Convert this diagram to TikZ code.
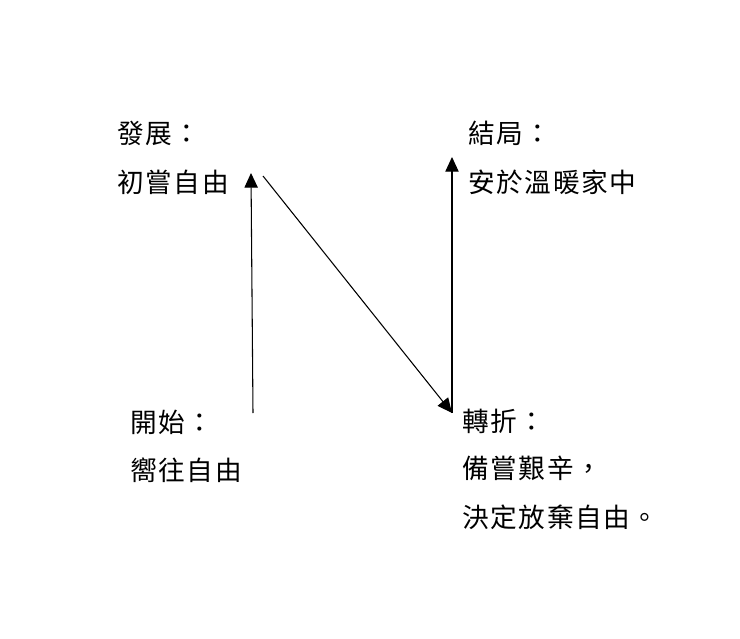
\documentclass[tikz,border=0pt]{standalone}
\usepackage{fontspec}
\newfontfamily\cjk[LetterSpace=6]{Noto Sans CJK TC}
\usetikzlibrary{arrows.meta}

\tikzset{
  stage/.style={anchor=west, inner sep=0pt, font=\cjk\fontsize{20}{24}\selectfont},
  plotline/.style={line width=0.8pt, -{Triangle[length=11pt, width=10pt]}}
}

\begin{document}
\begin{tikzpicture}[x=0.75pt, y=-0.75pt]
              \useasboundingbox (0, 0) rectangle (740, 639);
              \node[stage] (dev) at (117, 133) {發展：};
              \node[stage] (devtext) at (117, 182) {初嘗自由};
              \node[stage] (end) at (468, 133) {結局：};
              \node[stage] (endtext) at (468, 182) {安於溫暖家中};
              \node[stage] (begin) at (130, 422) {開始：};
              \node[stage] (begintext) at (130, 470) {嚮往自由};
              \node[stage] (turn) at (462, 421) {轉折：};
              \node[stage] (turntext) at (462, 468) {備嘗艱辛，};
              \node[stage] (turntext2) at (462, 517) {決定放棄自由。};
              \coordinate (b0) at (253, 413);
              \coordinate (d0) at (251, 173);
              \coordinate (d1) at (263, 176);
              \coordinate (t0) at (452, 413);
              \coordinate (e0) at (452, 157);
              \draw[plotline] (b0) -- (d0);
              \draw[plotline] (d1) -- (t0);
              \draw[plotline] (t0) -- (e0);
        \end{tikzpicture}
\end{document}
